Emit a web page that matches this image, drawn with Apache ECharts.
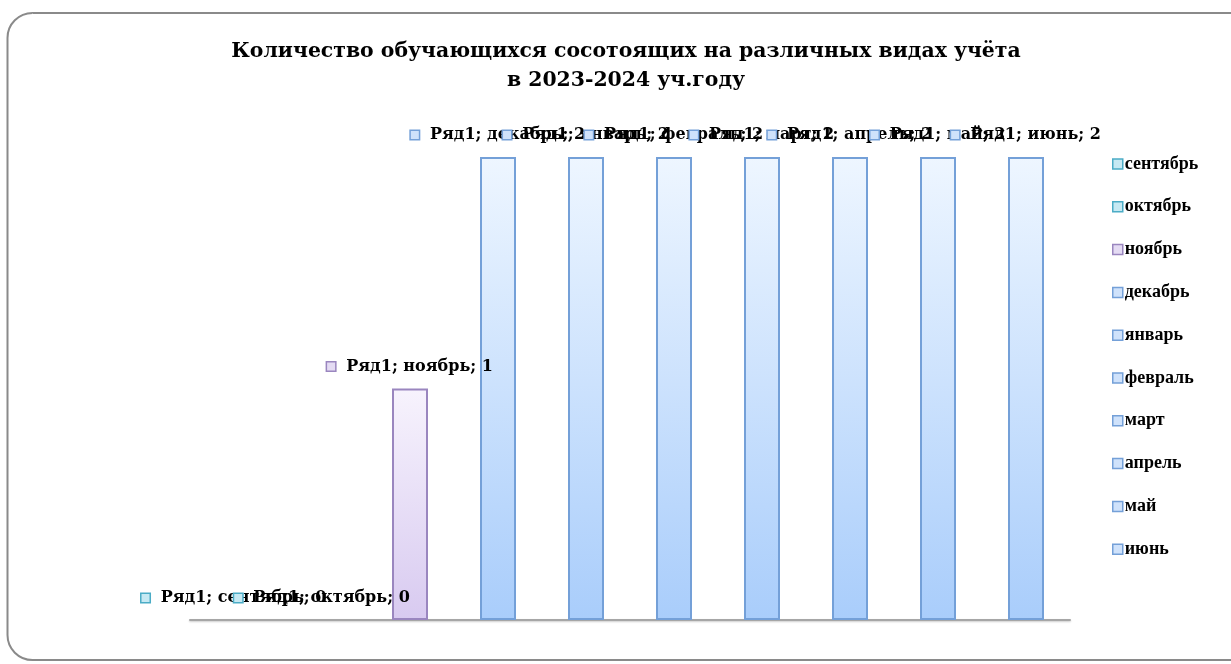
<!DOCTYPE html>
<html>
<head>
<meta charset="utf-8">
<script src="https://cdn.jsdelivr.net/npm/echarts@6/dist/echarts.min.js"></script>
<style>
  html, body { margin: 0; padding: 0; background: #fff; }
  #chart { width: 1231px; height: 664px; }
</style>
</head>
<body>
<div id="chart"></div>
<script>
// data
const titleLines = ['Количество обучающихся сосотоящих на различных видах учёта', 'в 2023-2024 уч.году'];
const seriesName = 'Ряд1';
const months = ['сентябрь', 'октябрь', 'ноябрь', 'декабрь', 'январь', 'февраль', 'март', 'апрель', 'май', 'июнь'];
const values = [0, 0, 1, 2, 2, 2, 2, 2, 2, 2];

// colour families per month: teal, purple, blue
const palette = {
  teal:   { border: '#4bacc6', top: '#eaf7fb', bottom: '#a9dcec', icon: '#c6e9f3' },
  purple: { border: '#9a86bf', top: '#f7f3fd', bottom: '#d8caf0', icon: '#e4dbf3' },
  blue:   { border: '#74a0d8', top: '#eef6ff', bottom: '#a9cdfb', icon: '#cfe2fb' }
};
const family = m => (m === 'сентябрь' || m === 'октябрь') ? palette.teal : (m === 'ноябрь' ? palette.purple : palette.blue);

const serif = '"Liberation Serif", serif';
const wideSerif = '"DejaVu Serif", serif';

const series = months.map((m, i) => {
  const c = family(m);
  return {
    name: m,
    type: 'bar',
    stack: 'one',
    barWidth: 36,
    data: months.map((_, j) => {
      if (j !== i) return null;
      // a zero bar has no visible outline in the original
      return values[i] === 0 ? { value: 0, itemStyle: { borderWidth: 0 } } : values[i];
    }),
    itemStyle: {
      color: new echarts.graphic.LinearGradient(0, 0, 0, 1, [
        { offset: 0, color: c.top },
        { offset: 1, color: c.bottom }
      ]),
      borderColor: c.border,
      borderWidth: 2
    },
    label: {
      show: true,
      position: 'top',
      distance: 14,
      formatter: p => '{m|}  ' + seriesName + '; ' + p.name + '; ' + p.value,
      color: '#000',
      fontFamily: wideSerif,
      fontWeight: 'bold',
      fontSize: 16,
      rich: {
        m: {
          width: 8, height: 8,
          backgroundColor: c.icon,
          borderColor: c.border,
          borderWidth: 1.5
        }
      }
    }
  };
});

const chart = echarts.init(document.getElementById('chart'));
chart.setOption({
  animation: false,
  title: {
    text: titleLines.join('\n'),
    left: 621,
    textAlign: 'center',
    top: 32,
    textStyle: {
      fontFamily: wideSerif,
      fontWeight: 'bold',
      fontSize: 20.4,
      lineHeight: 29,
      color: '#000'
    }
  },
  graphic: [{
    type: 'rect',
    shape: { x: 7.5, y: 13, width: 1260, height: 647, r: 25 },
    style: { fill: 'none', stroke: '#8a8a8a', lineWidth: 2 },
    silent: true
  }],
  legend: {
    orient: 'vertical',
    left: 1107,
    top: 150,
    itemWidth: 10,
    itemHeight: 10,
    itemGap: 24.8,
    icon: 'rect',
    data: months.map(m => {
      const c = family(m);
      return { name: m, itemStyle: { color: c.icon, borderColor: c.border, borderWidth: 1.5 } };
    }),
    textStyle: {
      fontFamily: serif,
      fontWeight: 'bold',
      fontSize: 18,
      color: '#000',
      padding: [0, 0, 0, -3]
    }
  },
  grid: { left: 190, right: 161, top: 157, bottom: 44 },
  xAxis: {
    type: 'category',
    data: months,
    axisLine: { lineStyle: { color: '#a6a6a6', width: 2, shadowColor: 'rgba(0,0,0,0.2)', shadowOffsetY: 1, shadowBlur: 2 } },
    axisTick: { show: false },
    axisLabel: { show: false }
  },
  yAxis: {
    type: 'value',
    min: 0,
    max: 2,
    show: false,
    splitLine: { show: false }
  },
  series: series
});
</script>
</body>
</html>
